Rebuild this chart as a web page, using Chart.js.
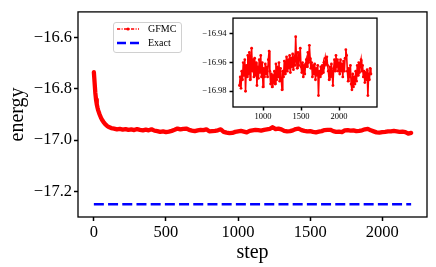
<!DOCTYPE html>
<html><head><meta charset="utf-8">
<script src="https://cdn.jsdelivr.net/npm/chart.js@4"></script>
<style>
html,body{margin:0;padding:0;background:#fff;}
#wrap{position:relative;width:436px;height:267px;overflow:hidden;background:#fff;}
#main{position:absolute;left:0;top:0;}
#inset{position:absolute;left:195px;top:10px;}
#legend{position:absolute;left:113px;top:22px;width:67px;height:29px;border:1px solid #d0d0d0;border-radius:3px;background:rgba(255,255,255,0.8);font-family:'Liberation Serif',serif;font-size:10px;color:#000;}
.row{position:absolute;left:3px;height:12px;display:flex;align-items:center;white-space:nowrap;}
.row svg{display:block;}
.row span{margin-left:9px;line-height:12px;}
</style></head>
<body>
<div id="wrap">
  <canvas id="main" width="436" height="267"></canvas>
  <canvas id="inset" width="186" height="117"></canvas>
  <div id="legend">
    <div class="row" style="top:0px"><svg width="22" height="6"><line x1="0" y1="3" x2="22" y2="3" stroke="#ff0000" stroke-width="1.3" stroke-dasharray="3.2,1.4,1,1.4"/><circle cx="11" cy="3" r="1.6" fill="#ff0000"/></svg><span>GFMC</span></div>
    <div class="row" style="top:14px"><svg width="22" height="6"><line x1="0" y1="3" x2="22" y2="3" stroke="#0000ff" stroke-width="2.6" stroke-dasharray="9,4"/></svg><span>Exact</span></div>
  </div>
</div>
<script>
// ---------------- data ----------------
const mainSteps = [0,5,10,15,20,25,30,40,50,60,70,80,90,100,
  120,140,160,180,200,220,240,260,280,300,320,340,360,380,400,420,440,460,480,500,
  520,540,560,580,600,620,640,660,680,700,720,740,760,780,800,820,840,860,880,900,
  920,940,960,980,1000,1020,1040,1060,1080,1100,1120,1140,1160,1180,1200,1220,1240,1260,1280,1300,
  1320,1340,1360,1380,1400,1420,1440,1460,1480,1500,1520,1540,1560,1580,1600,1620,1640,1660,1680,1700,
  1720,1740,1760,1780,1800,1820,1840,1860,1880,1900,1920,1940,1960,1980,2000,2020,2040,2060,2080,2100,
  2120,2140,2160,2180,2200];
const gfmcEnergy = [-16.735,-16.775,-16.815,-16.842,-16.860,-16.873,-16.884,-16.900,-16.914,-16.924,-16.932,-16.939,-16.944,-16.948,
  -16.953,-16.955,-16.958,-16.956,-16.959,-16.957,-16.960,-16.958,-16.961,-16.957,-16.960,-16.962,-16.959,-16.962,-16.958,-16.963,-16.965,-16.968,-16.966,-16.969,
  -16.967,-16.964,-16.960,-16.955,-16.958,-16.956,-16.955,-16.960,-16.963,-16.965,-16.962,-16.960,-16.961,-16.958,-16.966,-16.965,-16.964,-16.962,-16.958,-16.968,
  -16.971,-16.973,-16.972,-16.968,-16.966,-16.964,-16.967,-16.970,-16.964,-16.962,-16.960,-16.961,-16.963,-16.960,-16.958,-16.956,-16.950,-16.957,-16.955,-16.958,
  -16.964,-16.966,-16.965,-16.962,-16.957,-16.955,-16.961,-16.964,-16.966,-16.965,-16.968,-16.970,-16.967,-16.965,-16.961,-16.960,-16.960,-16.965,-16.968,-16.967,
  -16.969,-16.962,-16.961,-16.963,-16.962,-16.965,-16.964,-16.962,-16.958,-16.956,-16.962,-16.966,-16.970,-16.971,-16.969,-16.968,-16.966,-16.966,-16.964,-16.966,
  -16.968,-16.967,-16.969,-16.975,-16.972];
const exactEnergy = -17.25;
const exactSteps = [0, 2200];

const insetSteps = [690,700,710,720,730,740,750,760,770,780,790,800,810,820,830,840,850,860,870,880,890,900,910,920,930,940,950,960,970,980,990,
  1000,1010,1020,1030,1040,1050,1060,1070,1080,1090,1100,1110,1120,1130,1140,1150,1160,1170,1180,1190,
  1200,1210,1220,1230,1240,1250,1260,1270,1280,1290,1300,1310,1320,1330,1340,1350,1360,1370,1380,1390,
  1400,1410,1420,1430,1440,1450,1460,1470,1480,1490,1500,1510,1520,1530,1540,1550,1560,1570,1580,1590,
  1600,1610,1620,1630,1640,1650,1660,1670,1680,1690,1700,1710,1720,1730,1740,1750,1760,1770,1780,1790,
  1800,1810,1820,1830,1840,1850,1860,1870,1880,1890,1900,1910,1920,1930,1940,1950,1960,1970,1980,1990,
  2000,2010,2020,2030,2040,2050,2060,2070,2080,2090,2100,2110,2120,2130,2140,2150,2160,2170,2180,2190,
  2200,2210,2220,2230,2240,2250,2260,2270,2280,2290,2300,2310,2320,2330,2340,2350,2360,2370,2380,2390,
  2400,2410,2420];
const insetEnergy = [-16.976,-16.970,-16.978,-16.966,-16.972,-16.960,-16.969,-16.958,-16.980,-16.962,-16.970,-16.955,-16.968,-16.953,-16.972,-16.956,-16.950,-16.966,-16.958,-16.970,-16.957,-16.969,-16.960,-16.976,-16.963,-16.971,-16.958,-16.967,-16.955,-16.970,-16.960,
  -16.977,-16.964,-16.970,-16.961,-16.968,-16.963,-16.970,-16.958,-16.952,-16.966,-16.975,-16.968,-16.977,-16.969,-16.974,-16.966,-16.975,-16.961,-16.972,-16.963,
  -16.970,-16.960,-16.973,-16.964,-16.971,-16.979,-16.966,-16.970,-16.959,-16.968,-16.960,-16.956,-16.966,-16.958,-16.964,-16.955,-16.967,-16.957,-16.963,-16.954,
  -16.965,-16.958,-16.962,-16.942,-16.958,-16.964,-16.953,-16.962,-16.956,-16.950,-16.963,-16.967,-16.960,-16.970,-16.962,-16.968,-16.961,-16.958,-16.963,-16.953,
  -16.960,-16.948,-16.957,-16.964,-16.960,-16.970,-16.962,-16.968,-16.961,-16.972,-16.964,-16.969,-16.962,-16.983,-16.966,-16.970,-16.963,-16.968,-16.962,-16.967,
  -16.960,-16.962,-16.957,-16.961,-16.956,-16.962,-16.966,-16.972,-16.963,-16.970,-16.961,-16.967,-16.976,-16.964,-16.958,-16.966,-16.955,-16.963,-16.958,-16.966,
  -16.960,-16.968,-16.958,-16.966,-16.961,-16.970,-16.959,-16.966,-16.957,-16.951,-16.955,-16.966,-16.973,-16.964,-16.970,-16.962,-16.975,-16.979,-16.968,-16.977,
  -16.970,-16.975,-16.966,-16.973,-16.962,-16.969,-16.960,-16.967,-16.961,-16.958,-16.966,-16.962,-16.970,-16.966,-16.974,-16.967,-16.972,-16.965,-16.983,-16.968,
  -16.972,-16.964,-16.968];

const mainXTicks = [0, 500, 1000, 1500, 2000];
const mainYTicks = [-17.2, -17.0, -16.8, -16.6];
const insetXTicks = [1000, 1500, 2000];
const insetYTicks = [-16.98, -16.96, -16.94];

const labels = { x: 'step', y: 'energy', gfmc: 'GFMC', exact: 'Exact' };

// ---------------- helpers ----------------
function pairs(xs, ys) {
  const n = Math.min(xs.length, ys.length);
  const out = [];
  for (let i = 0; i < n; i++) out.push({ x: xs[i], y: ys[i] });
  return out;
}
const fmtMinus = (d) => (v) => (v < 0 ? '\u2212' : '') + Math.abs(v).toFixed(d);

Chart.defaults.font.family = "'Liberation Serif', serif";
Chart.defaults.color = '#000';
Chart.defaults.animation = false;

const framePlugin = {
  id: 'frame',
  beforeDraw(chart, args, opts) {
    if (!opts.fill) return;
    const { ctx, chartArea: a } = chart;
    ctx.save(); ctx.fillStyle = opts.fill;
    ctx.fillRect(a.left, a.top, a.right - a.left, a.bottom - a.top);
    ctx.restore();
  },
  afterDraw(chart, args, opts) {
    const { ctx, chartArea: a } = chart;
    ctx.save(); ctx.strokeStyle = '#000'; ctx.lineWidth = opts.width || 1.3;
    ctx.strokeRect(a.left, a.top, a.right - a.left, a.bottom - a.top);
    ctx.restore();
  }
};

function axis(opts) {
  return Object.assign({
    type: 'linear',
    border: { display: false },
    grid: { drawOnChartArea: false, drawTicks: true, tickLength: opts.tl, tickWidth: opts.tw, tickColor: '#000' },
  }, opts.extra);
}

// ---------------- main chart ----------------
new Chart(document.getElementById('main'), {
  type: 'line',
  data: {
    datasets: [
      { label: labels.gfmc, data: pairs(mainSteps, gfmcEnergy), borderColor: '#ff0000', backgroundColor: '#ff0000',
        borderWidth: 4.3, pointRadius: 0, tension: 0, borderJoinStyle: 'round', borderCapStyle: 'round' },
      { label: labels.exact, data: pairs(exactSteps, [exactEnergy, exactEnergy]), borderColor: '#0000ff', backgroundColor: '#0000ff',
        borderWidth: 2.6, borderDash: [10, 4.2], pointRadius: 0 }
    ]
  },
  options: {
    responsive: false,
    layout: { padding: { left: 0, right: 9, top: 9, bottom: 0 } },
    plugins: { legend: { display: false }, tooltip: { enabled: false }, frame: { width: 1.3 } },
    scales: {
      x: axis({ tl: 4, tw: 1.5, extra: {
        min: -110, max: 2310,
        afterBuildTicks: (s) => { s.ticks = mainXTicks.map(v => ({ value: v })); },
        afterFit: (s) => { s.height = 50; },
        ticks: { font: { size: 16.5 }, padding: 2, maxRotation: 0, callback: (v) => String(v) },
        title: { display: true, text: labels.x, font: { size: 20 }, padding: { top: 0, bottom: 2 } }
      }}),
      y: axis({ tl: 4, tw: 1.5, extra: {
        min: -17.3, max: -16.5,
        afterBuildTicks: (s) => { s.ticks = mainYTicks.map(v => ({ value: v })); },
        afterFit: (s) => { s.width = 78; },
        ticks: { font: { size: 16.5 }, padding: 2, callback: fmtMinus(1) },
        title: { display: true, text: labels.y, font: { size: 20 }, padding: { top: 6, bottom: 0 } }
      }})
    }
  },
  plugins: [framePlugin]
});

// ---------------- inset chart ----------------
new Chart(document.getElementById('inset'), {
  type: 'line',
  data: {
    datasets: [
      { label: labels.gfmc, data: pairs(insetSteps, insetEnergy), borderColor: '#ff0000', backgroundColor: '#ff0000',
        borderWidth: 1.6, pointRadius: 1.4, pointBorderWidth: 0, pointBackgroundColor: '#ff0000', tension: 0 }
    ]
  },
  options: {
    responsive: false,
    layout: { padding: { left: 0, right: 4, top: 7, bottom: 0 } },
    plugins: { legend: { display: false }, tooltip: { enabled: false }, frame: { width: 1.3, fill: '#ffffff' } },
    scales: {
      x: axis({ tl: 3.5, tw: 1.5, extra: {
        min: 605, max: 2500,
        afterBuildTicks: (s) => { s.ticks = insetXTicks.map(v => ({ value: v })); },
        afterFit: (s) => { s.height = 20; },
        ticks: { font: { size: 8.5 }, padding: 1.5, maxRotation: 0, callback: (v) => String(v) }
      }}),
      y: axis({ tl: 3.5, tw: 1.5, extra: {
        min: -16.991, max: -16.929,
        afterBuildTicks: (s) => { s.ticks = insetYTicks.map(v => ({ value: v })); },
        afterFit: (s) => { s.width = 38; },
        ticks: { font: { size: 8.5 }, padding: 3, callback: fmtMinus(2) }
      }})
    }
  },
  plugins: [framePlugin]
});
</script>
</body></html>
